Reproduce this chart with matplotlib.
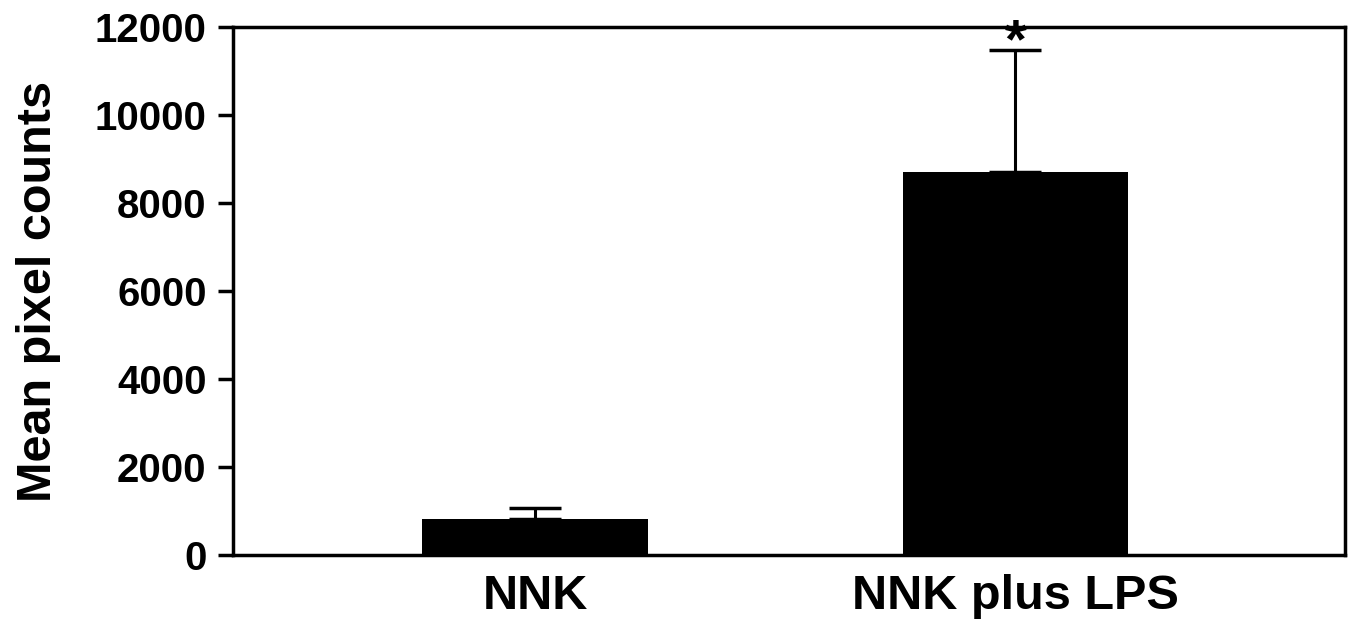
import numpy as np
import matplotlib
matplotlib.use('Agg')
import matplotlib.pyplot as plt

plt.rcParams['font.family'] = ['Liberation Sans', 'DejaVu Sans']
plt.rcParams['font.weight'] = 'bold'

groups = ['NNK', 'NNK plus LPS']
means = [820, 8700]
errors = [250, 2780]
marks = ['', '*']

x = np.arange(1, len(groups) + 1)

fig = plt.figure(figsize=(13.63, 6.26), dpi=100)
ax = fig.add_axes([233 / 1363, 1 - 555 / 626, (1345 - 233) / 1363, (555 - 27) / 626])

ax.bar(x, means, width=0.47, color='black', zorder=2)
ax.errorbar(x, means, yerr=[np.zeros(len(means)), errors], fmt='none',
            ecolor='black', elinewidth=2.2, capsize=19, capthick=2.5, zorder=1)
for xi, m, e, s in zip(x, means, errors, marks):
    if s:
        ax.text(xi, m + e + 150, s, ha='center', va='center', fontsize=40, fontweight='bold')

ax.set_xlim(0.371, 2.686)
ax.set_ylim(0, 12000)
ax.set_yticks(np.arange(0, 12001, 2000))
ax.set_xticks(x)
ax.set_xticklabels(groups, fontsize=35, fontweight='bold')
ax.tick_params(axis='x', length=0, pad=14)
ax.tick_params(axis='y', labelsize=29, width=2.5, length=11, direction='out', pad=8)
for lbl in ax.get_yticklabels():
    lbl.set_fontweight('bold')
ax.set_ylabel('Mean pixel counts', fontsize=35, fontweight='bold', labelpad=24)
for sp in ax.spines.values():
    sp.set_linewidth(2.5)

fig.savefig('out.png', dpi=100)
